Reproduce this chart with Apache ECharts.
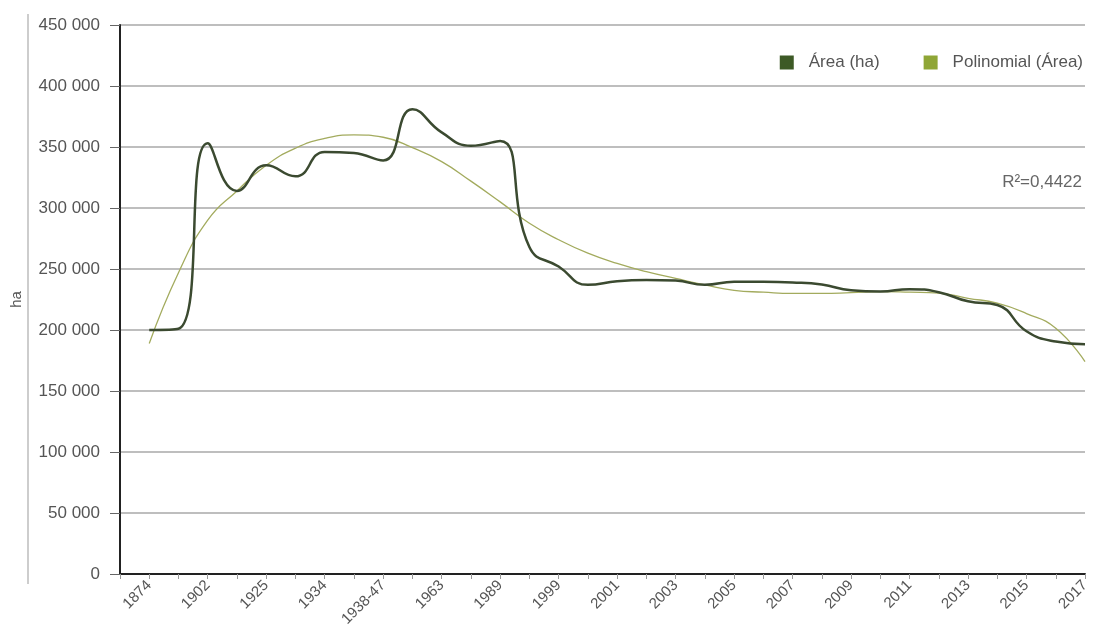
<!DOCTYPE html>
<html>
<head>
    <meta charset="UTF-8">
    <title>Área (ha)</title>
    <script src="https://cdn.jsdelivr.net/npm/echarts@6/dist/echarts.min.js"></script>
    <style>
        body { margin: 0; background: #fff; }
    </style>
</head>
<body>
<div id="main" style="width: 1096px;height:640px;"></div>
<script type="text/javascript">
    // labels shown under every other tick (1, 3, 5, ...)
    var tickLabels = ['1874', '1902', '1925', '1934', '1938-47', '1963', '1989', '1999', '2001',
        '2003', '2005', '2007', '2009', '2011', '2013', '2015', '2017'];

    // area in ha, one value per tick
    var areaHa = [200000, 201000, 353000, 314000, 335000, 326000, 346000, 345000, 339000,
        381000, 362000, 351000, 355000, 268000, 252000, 237000, 240000, 241000, 240500,
        237000, 239500, 239500, 239000, 237300, 232500, 231500, 233500, 231000, 223500,
        220500, 199000, 190500, 188300];

    // polynomial trend line, same ticks
    var trendPoly = [189000, 247000, 290000, 314000, 335000, 349000, 357000, 360000, 358000,
        349500, 338000, 322000, 305000, 287500, 274000, 263000, 254600, 247800, 242300,
        237000, 232500, 231000, 230000, 230000, 230600, 231400, 231000, 230300, 226000,
        222000, 213500, 201400, 174000];

    var rSquared = 'R²=0,4422';

    var fontFamily = "'Liberation Sans', Arial, sans-serif";

    function toPoints(arr) {
        return arr.map(function (v, i) { return [i + 1, v]; });
    }

    var myChart = echarts.init(document.getElementById('main'));

    var option = {
        animation: false,
        backgroundColor: '#ffffff',
        textStyle: { fontFamily: fontFamily },
        title: {
            text: rSquared,
            right: 9,
            top: 169,
            textStyle: { fontSize: 17, fontWeight: 'normal', color: '#666', fontFamily: fontFamily }
        },
        legend: {
            right: 8,
            top: 49,
            icon: 'rect',
            itemWidth: 14,
            itemHeight: 14,
            itemGap: 44,
            textStyle: { fontSize: 17, color: '#555', padding: [0, 0, 0, 10] },
            data: ['Área (ha)', 'Polinomial (Área)']
        },
        graphic: [
            {
                type: 'line',
                shape: { x1: 28, y1: 14, x2: 28, y2: 584 },
                style: { stroke: '#bdbdbd', lineWidth: 1.5 }
            }
        ],
        grid: {
            left: 120,
            right: 11,
            top: 25,
            bottom: 66,
            outerBoundsMode: 'none',
            containLabel: false
        },
        xAxis: {
            type: 'value',
            min: 0,
            max: tickLabels.length * 2 - 1,
            interval: 1,
            splitLine: { show: false },
            axisLine: { lineStyle: { color: '#222', width: 2 } },
            axisTick: { length: 5, lineStyle: { color: '#999' } },
            axisLabel: {
                rotate: 45,
                margin: 9,
                fontSize: 15,
                color: '#555',
                formatter: function (v) {
                    return v % 2 === 1 ? tickLabels[(v - 1) / 2] : '';
                }
            }
        },
        yAxis: {
            type: 'value',
            min: 0,
            max: 450000,
            interval: 50000,
            name: 'ha',
            nameLocation: 'middle',
            nameGap: 96,
            nameRotate: 90,
            nameTextStyle: { fontSize: 15, color: '#555' },
            axisLine: { show: true, lineStyle: { color: '#222', width: 2 } },
            axisTick: { show: true, length: 10, lineStyle: { color: '#666' } },
            axisLabel: {
                margin: 20,
                fontSize: 17,
                color: '#555',
                formatter: function (v) {
                    return String(v).replace(/\B(?=(\d{3})+(?!\d))/g, ' ');
                }
            },
            splitLine: { lineStyle: { color: '#a8a8a8', width: 1.5 } }
        },
        series: [
            {
                name: 'Área (ha)',
                type: 'line',
                symbol: 'none',
                smooth: 0.5,
                z: 3,
                itemStyle: { color: '#3d5a26' },
                lineStyle: { color: '#3b4a30', width: 2.5 },
                data: toPoints(areaHa)
            },
            {
                name: 'Polinomial (Área)',
                type: 'line',
                symbol: 'none',
                smooth: 0.5,
                z: 2,
                itemStyle: { color: '#8fa636' },
                lineStyle: { color: '#a3ab5e', width: 1.3 },
                data: toPoints(trendPoly)
            }
        ]
    };

    myChart.setOption(option);
</script>
</body>
</html>
